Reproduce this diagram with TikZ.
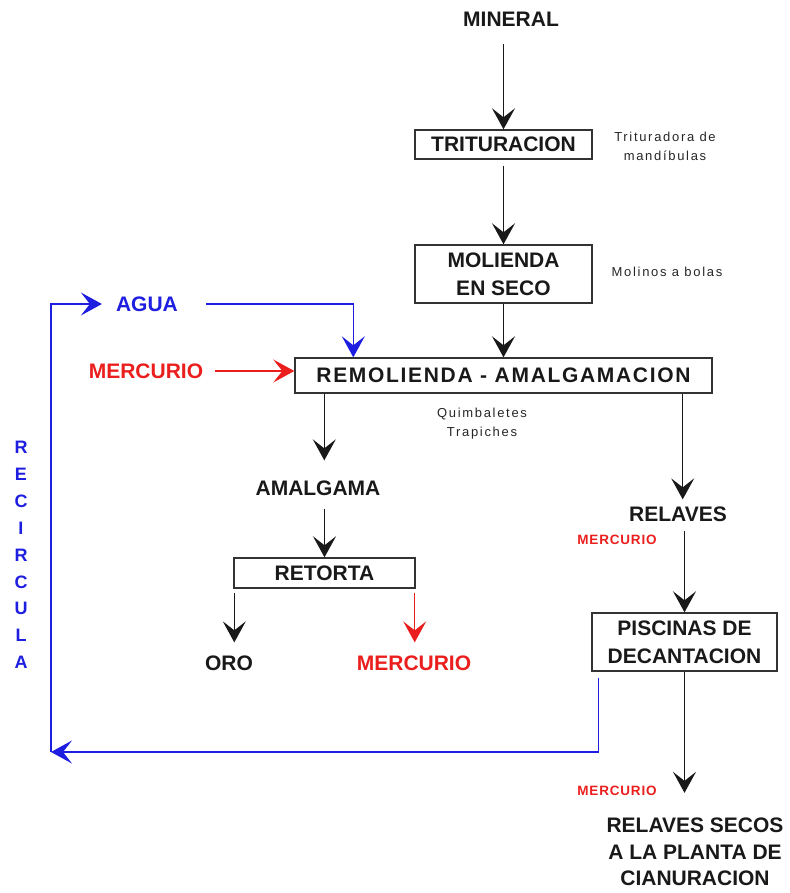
\documentclass[tikz,border=0pt]{standalone}
\usepackage{fontspec}
\setmainfont{Liberation Sans}
\usetikzlibrary{arrows.meta}
\definecolor{myblue}{RGB}{30,30,225}
\definecolor{myred}{RGB}{235,30,30}
\begin{document}
\begin{tikzpicture}[x=1pt,y=-1pt,
  big/.style={font=\fontsize{21}{28}\selectfont\bfseries, inner sep=0pt, align=center, text=black!90},
  note/.style={font=\fontsize{13}{19}\selectfont\addfontfeature{LetterSpace=13}, inner sep=0pt, align=center, text=black!85},
  smallred/.style={font=\fontsize{13.5}{16}\selectfont\bfseries\addfontfeature{LetterSpace=6}, inner sep=0pt, text=myred},
  box/.style={draw=black!80, line width=1.4pt, inner sep=0pt},
  tipA/.style={-{Stealth[length=21pt,width=23pt,inset=9pt]}},
  arr/.style={line width=1.4pt, draw=black!90, tipA},
  rarr/.style={line width=1.4pt, draw=myred, tipA},
  barr/.style={line width=1.5pt, draw=myblue, tipA}
]
\useasboundingbox (0,0) rectangle (789,893);

\node[big] (mineral) at (511,19) {MINERAL};
\node[box,big,minimum width=177pt,minimum height=29pt] (tri) at (503.5,144.5) {TRITURACION};
\node[note] (trinote) at (665,146) {Trituradora de\\mandíbulas};
\node[box,big,minimum width=177pt,minimum height=58pt] (mol) at (503.5,274) {MOLIENDA\\EN SECO};
\node[note] (molnote) at (667,272) {Molinos a bolas};
\node[box,big,minimum width=417pt,minimum height=35pt] (remo) at (503.5,375.5) {\addfontfeature{LetterSpace=8}REMOLIENDA - AMALGAMACION};
\node[big,text=myblue] (agua) at (147,304) {AGUA};
\node[big,text=myred] (merc1) at (146,371) {MERCURIO};
\node[note] (quim) at (482,424) {Quimbaletes\\Trapiches};
\node[big] (amal) at (318,488) {AMALGAMA};
\node[box,big,minimum width=181pt,minimum height=30pt] (reto) at (324.5,573) {RETORTA};
\node[big] (oro) at (229,663) {ORO};
\node[big,text=myred] (merc2) at (414,663) {MERCURIO};
\node[big] (relaves) at (678,514) {RELAVES};
\node[smallred] (merc3) at (617,540) {MERCURIO};
\node[box,big,minimum width=185pt,minimum height=58pt] (pisc) at (684.5,642) {PISCINAS DE\\DECANTACION};
\node[smallred] (merc4) at (617,791) {MERCURIO};
\node[big,font=\fontsize{21}{26.5}\selectfont\bfseries] (final) at (695,852) {RELAVES SECOS\\A LA PLANTA DE\\CIANURACION};
\node[big,text=myblue,font=\fontsize{18}{26.9}\selectfont\bfseries] (recirc) at (21,555) {R\\E\\C\\I\\R\\C\\U\\L\\A};
\coordinate (retc) at (51,752);

% main flow
\draw[arr, shorten <=18pt] (mineral.south -| tri.north) -- (tri.north);
\draw[arr, shorten <=6pt] (tri.south) -- (mol.north);
\draw[arr] (mol.south) -- (mol.south |- remo.north);
\draw[arr, shorten >=20pt] ([xshift=30pt]remo.south west) -- ([xshift=30pt]remo.south west |- amal.north);
\draw[arr, shorten <=13pt] (amal.south -| reto.north) -- (reto.north);
\draw[arr, shorten <=4pt, shorten >=13pt] ([xshift=1pt]reto.south west) -- ([xshift=1pt]reto.south west |- oro.north);
\draw[rarr, shorten <=4pt, shorten >=13pt] ([xshift=-1pt]reto.south east) -- ([xshift=-1pt]reto.south east |- merc2.north);
\draw[arr, shorten >=7pt] ([xshift=-30pt]remo.south east) -- ([xshift=-30pt]remo.south east |- relaves.north);
\draw[arr, shorten <=9pt] (relaves.south -| pisc.north) -- (pisc.north);
\draw[arr, shorten >=25pt] (pisc.south) -- (pisc.south |- final.north);

% inputs
\draw[barr, shorten <=28pt] (agua.east) -| ([xshift=59pt]remo.north west);
\draw[rarr, shorten <=12pt] (merc1.east) -- (merc1.east -| remo.west);

% recirculation
\draw[barr, shorten <=6pt] ([xshift=7pt]pisc.south west) |- (retc);
\draw[barr, shorten >=14pt] (retc) |- (agua.west);
\end{tikzpicture}
\end{document}
